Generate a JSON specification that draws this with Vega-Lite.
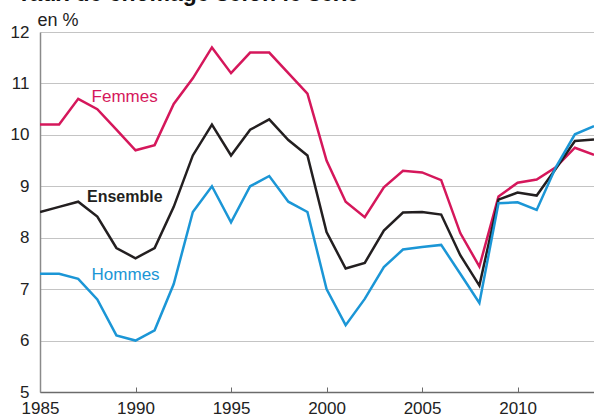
{
  "$schema": "https://vega.github.io/schema/vega-lite/v6.json",
  "width": 554,
  "height": 360,
  "autosize": {"type": "none"},
  "padding": {"left": 40, "top": 32, "right": 0, "bottom": 24},
  "background": "white",
  "config": {
    "view": {"stroke": null},
    "font": "Liberation Sans, Arial, sans-serif"
  },
  "datasets": {
    "series": [
      {"year": 1985, "serie": "Femmes", "value": 10.2},
      {"year": 1986, "serie": "Femmes", "value": 10.2},
      {"year": 1987, "serie": "Femmes", "value": 10.7},
      {"year": 1988, "serie": "Femmes", "value": 10.5},
      {"year": 1989, "serie": "Femmes", "value": 10.1},
      {"year": 1990, "serie": "Femmes", "value": 9.7},
      {"year": 1991, "serie": "Femmes", "value": 9.8},
      {"year": 1992, "serie": "Femmes", "value": 10.6},
      {"year": 1993, "serie": "Femmes", "value": 11.1},
      {"year": 1994, "serie": "Femmes", "value": 11.7},
      {"year": 1995, "serie": "Femmes", "value": 11.2},
      {"year": 1996, "serie": "Femmes", "value": 11.6},
      {"year": 1997, "serie": "Femmes", "value": 11.6},
      {"year": 1998, "serie": "Femmes", "value": 11.2},
      {"year": 1999, "serie": "Femmes", "value": 10.8},
      {"year": 2000, "serie": "Femmes", "value": 9.5},
      {"year": 2001, "serie": "Femmes", "value": 8.7},
      {"year": 2002, "serie": "Femmes", "value": 8.4},
      {"year": 2003, "serie": "Femmes", "value": 8.98},
      {"year": 2004, "serie": "Femmes", "value": 9.3},
      {"year": 2005, "serie": "Femmes", "value": 9.27},
      {"year": 2006, "serie": "Femmes", "value": 9.12},
      {"year": 2007, "serie": "Femmes", "value": 8.09},
      {"year": 2008, "serie": "Femmes", "value": 7.44},
      {"year": 2009, "serie": "Femmes", "value": 8.8},
      {"year": 2010, "serie": "Femmes", "value": 9.07},
      {"year": 2011, "serie": "Femmes", "value": 9.13},
      {"year": 2012, "serie": "Femmes", "value": 9.37},
      {"year": 2013, "serie": "Femmes", "value": 9.75},
      {"year": 2014, "serie": "Femmes", "value": 9.61},
      {"year": 1985, "serie": "Ensemble", "value": 8.5},
      {"year": 1986, "serie": "Ensemble", "value": 8.6},
      {"year": 1987, "serie": "Ensemble", "value": 8.7},
      {"year": 1988, "serie": "Ensemble", "value": 8.41},
      {"year": 1989, "serie": "Ensemble", "value": 7.8},
      {"year": 1990, "serie": "Ensemble", "value": 7.6},
      {"year": 1991, "serie": "Ensemble", "value": 7.8},
      {"year": 1992, "serie": "Ensemble", "value": 8.6},
      {"year": 1993, "serie": "Ensemble", "value": 9.6},
      {"year": 1994, "serie": "Ensemble", "value": 10.2},
      {"year": 1995, "serie": "Ensemble", "value": 9.6},
      {"year": 1996, "serie": "Ensemble", "value": 10.1},
      {"year": 1997, "serie": "Ensemble", "value": 10.3},
      {"year": 1998, "serie": "Ensemble", "value": 9.9},
      {"year": 1999, "serie": "Ensemble", "value": 9.6},
      {"year": 2000, "serie": "Ensemble", "value": 8.11},
      {"year": 2001, "serie": "Ensemble", "value": 7.4},
      {"year": 2002, "serie": "Ensemble", "value": 7.51},
      {"year": 2003, "serie": "Ensemble", "value": 8.14},
      {"year": 2004, "serie": "Ensemble", "value": 8.49},
      {"year": 2005, "serie": "Ensemble", "value": 8.5},
      {"year": 2006, "serie": "Ensemble", "value": 8.45},
      {"year": 2007, "serie": "Ensemble", "value": 7.66},
      {"year": 2008, "serie": "Ensemble", "value": 7.07},
      {"year": 2009, "serie": "Ensemble", "value": 8.74},
      {"year": 2010, "serie": "Ensemble", "value": 8.88},
      {"year": 2011, "serie": "Ensemble", "value": 8.82},
      {"year": 2012, "serie": "Ensemble", "value": 9.34},
      {"year": 2013, "serie": "Ensemble", "value": 9.88},
      {"year": 2014, "serie": "Ensemble", "value": 9.91},
      {"year": 1985, "serie": "Hommes", "value": 7.3},
      {"year": 1986, "serie": "Hommes", "value": 7.3},
      {"year": 1987, "serie": "Hommes", "value": 7.2},
      {"year": 1988, "serie": "Hommes", "value": 6.8},
      {"year": 1989, "serie": "Hommes", "value": 6.1},
      {"year": 1990, "serie": "Hommes", "value": 6.0},
      {"year": 1991, "serie": "Hommes", "value": 6.2},
      {"year": 1992, "serie": "Hommes", "value": 7.1},
      {"year": 1993, "serie": "Hommes", "value": 8.5},
      {"year": 1994, "serie": "Hommes", "value": 9.0},
      {"year": 1995, "serie": "Hommes", "value": 8.3},
      {"year": 1996, "serie": "Hommes", "value": 9.0},
      {"year": 1997, "serie": "Hommes", "value": 9.2},
      {"year": 1998, "serie": "Hommes", "value": 8.7},
      {"year": 1999, "serie": "Hommes", "value": 8.5},
      {"year": 2000, "serie": "Hommes", "value": 7.0},
      {"year": 2001, "serie": "Hommes", "value": 6.3},
      {"year": 2002, "serie": "Hommes", "value": 6.81},
      {"year": 2003, "serie": "Hommes", "value": 7.43},
      {"year": 2004, "serie": "Hommes", "value": 7.77},
      {"year": 2005, "serie": "Hommes", "value": 7.82},
      {"year": 2006, "serie": "Hommes", "value": 7.86},
      {"year": 2007, "serie": "Hommes", "value": 7.3},
      {"year": 2008, "serie": "Hommes", "value": 6.73},
      {"year": 2009, "serie": "Hommes", "value": 8.67},
      {"year": 2010, "serie": "Hommes", "value": 8.69},
      {"year": 2011, "serie": "Hommes", "value": 8.54},
      {"year": 2012, "serie": "Hommes", "value": 9.37},
      {"year": 2013, "serie": "Hommes", "value": 10.01},
      {"year": 2014, "serie": "Hommes", "value": 10.17}
    ],
    "labels": [
      {"year": 1987.7, "value": 10.73, "serie": "Femmes", "label": "Femmes"},
      {"year": 1987.7, "value": 7.28, "serie": "Hommes", "label": "Hommes"}
    ],
    "boldlabels": [
      {"year": 1987.46, "value": 8.8, "serie": "Ensemble", "label": "Ensemble"}
    ],
    "title": [
      {"year": 1983.8, "value": 12.6, "label": "Taux de chômage selon le sexe"}
    ]
  },
  "layer": [
    {
      "data": {"name": "series"},
      "mark": {"type": "line", "strokeWidth": 2.5, "strokeJoin": "miter", "clip": true},
      "encoding": {
        "x": {
          "field": "year", "type": "quantitative",
          "scale": {"domain": [1985, 2014], "nice": false, "zero": false},
          "axis": {
            "values": [1985, 1990, 1995, 2000, 2005, 2010],
            "format": "d",
            "title": null,
            "grid": false,
            "domainColor": "#6b6b6b",
            "domainWidth": 1.5,
            "tickColor": "#6b6b6b",
            "tickSize": -5,
            "tickWidth": 1,
            "labelPadding": 13,
            "labelDx": 2,
            "labelFontSize": 17,
            "labelColor": "#222222",
            "labelFlush": false
          }
        },
        "y": {
          "field": "value", "type": "quantitative",
          "scale": {"domain": [5, 12], "nice": false, "zero": false},
          "axis": {
            "values": [5, 6, 7, 8, 9, 10, 11, 12],
            "title": "en %",
            "titleAngle": 0,
            "titleX": -3,
            "titleY": -7,
            "titleAlign": "left",
            "titleBaseline": "alphabetic",
            "titleFontSize": 18,
            "titleFontWeight": "normal",
            "titleColor": "#222222",
            "grid": true,
            "gridColor": "#c4c4c4",
            "gridWidth": 1.2,
            "ticks": false,
            "domainColor": "#8a8a8a",
            "domainWidth": 1.5,
            "labelPadding": 11,
            "labelFontSize": 17,
            "labelColor": "#222222",
            "labelFlush": false
          }
        },
        "color": {
          "field": "serie", "type": "nominal",
          "scale": {"domain": ["Femmes", "Ensemble", "Hommes"], "range": ["#d5175b", "#231f20", "#1b96d6"]},
          "legend": null
        },
        "detail": {"field": "serie"}
      }
    },
    {
      "data": {"name": "labels"},
      "mark": {"type": "text", "align": "left", "baseline": "middle", "fontSize": 17},
      "encoding": {
        "x": {"field": "year", "type": "quantitative"},
        "y": {"field": "value", "type": "quantitative"},
        "text": {"field": "label"},
        "color": {"field": "serie", "type": "nominal", "legend": null}
      }
    },
    {
      "data": {"name": "boldlabels"},
      "mark": {"type": "text", "align": "left", "baseline": "middle", "fontSize": 16, "fontWeight": "bold"},
      "encoding": {
        "x": {"field": "year", "type": "quantitative"},
        "y": {"field": "value", "type": "quantitative"},
        "text": {"field": "label"},
        "color": {"field": "serie", "type": "nominal", "legend": null}
      }
    },
    {
      "data": {"name": "title"},
      "mark": {"type": "text", "align": "left", "baseline": "alphabetic", "fontSize": 23, "fontWeight": "bold", "color": "#111111", "clip": false},
      "encoding": {
        "x": {"field": "year", "type": "quantitative"},
        "y": {"field": "value", "type": "quantitative"},
        "text": {"field": "label"}
      }
    }
  ]
}
